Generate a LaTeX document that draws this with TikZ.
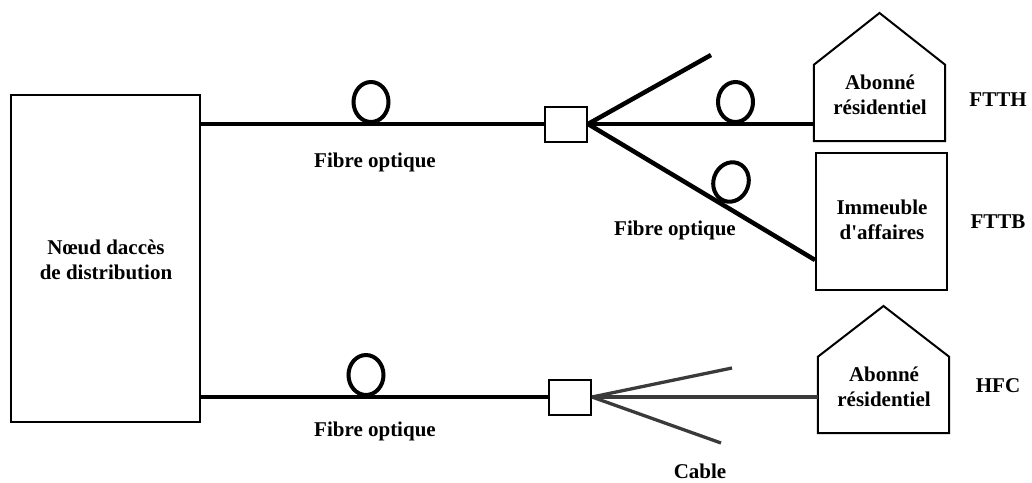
\documentclass[tikz,border=0pt]{standalone}
\usepackage{fontspec}
\setmainfont{Liberation Serif}
\usetikzlibrary{shapes.geometric}
\definecolor{cablegray}{HTML}{3A3A3A}
\tikzset{
  lbl/.style={font=\fontsize{21}{25}\selectfont\bfseries, inner sep=0pt, align=center},
  boxed/.style={draw, line width=2pt, inner sep=0pt},
  fiber/.style={line width=4.5pt},
  cable/.style={line width=3.3pt, color=cablegray},
  loopy/.style={draw, ellipse, line width=4pt, inner sep=0pt, minimum width=35pt, minimum height=40pt},
  house/.style={line width=2pt, line join=miter}
}
\begin{document}
\begin{tikzpicture}[x=1pt,y=-1pt]
\useasboundingbox (0,0) rectangle (1032,482);
% distribution node
\node[boxed, minimum width=189pt, minimum height=327pt] (nd) at (105.5,258.5) {};
\node[lbl] (ndt) at (106,260) {Nœud daccès\\de distribution};
% splitters
\node[boxed, fill=white, minimum width=42pt, minimum height=35pt] (sq1) at (566,124) {};
\node[boxed, fill=white, minimum width=42pt, minimum height=35pt] (sq2) at (570,397) {};
% house 1 (FTTH)
\node[minimum width=131pt, minimum height=76pt, inner sep=0pt] (h1) at (879.5,103) {};
\coordinate (h1top) at (879.5,13);
\draw[house] (h1.south west) -- (h1.north west) -- (h1top) -- (h1.north east) -- (h1.south east) -- cycle;
\node[lbl] (h1t) at (880,95) {Abonné\\résidentiel};
% building (FTTB)
\node[boxed, minimum width=131pt, minimum height=137pt] (fttb) at (881.5,221.5) {};
\node[lbl] (fttbt) at (882,220) {Immeuble\\d\textquotesingle affaires};
% house 2 (HFC)
\node[minimum width=131pt, minimum height=76pt, inner sep=0pt] (h2) at (883.5,395) {};
\coordinate (h2top) at (883.5,306);
\draw[house] (h2.south west) -- (h2.north west) -- (h2top) -- (h2.north east) -- (h2.south east) -- cycle;
\node[lbl] (h2t) at (884,387) {Abonné\\résidentiel};
% free ends
\coordinate (e1) at (711,55);
\coordinate (e2) at (fttb.west |- 0,260);
\coordinate (c1) at (732,368);
\coordinate (c2) at (721,443);
% fibre lines
\draw[fiber] (nd.east |- sq1.west) -- (sq1.west);
\draw[fiber] (sq1.east) -- (e1);
\draw[fiber] (sq1.east) -- (h1.west |- sq1.east);
\draw[fiber] (sq1.east) -- (e2);
\draw[fiber] (nd.east |- sq2.west) -- (sq2.west);
% cable lines
\draw[cable] (sq2.east) -- (c1);
\draw[cable] (sq2.east) -- (h2.west |- sq2.east);
\draw[cable] (sq2.east) -- (c2);
% loops
\node[loopy] (l1) at (371,102) {};
\node[loopy] (l2) at (735.5,102) {};
\node[loopy, rotate=-20] (l3) at (731,182) {};
\node[loopy] (l4) at (366,375) {};
% labels
\node[lbl] (f1) at (375,162) {Fibre optique};
\node[lbl] (f2) at (675,230) {Fibre optique};
\node[lbl] (f3) at (375,431) {Fibre optique};
\node[lbl] (cb) at (700,471) {Cable};
\node[lbl] (ftth) at (998,100) {FTTH};
\node[lbl] (fttbl) at (998,222) {FTTB};
\node[lbl] (hfc) at (998,386) {HFC};
\end{tikzpicture}
\end{document}
